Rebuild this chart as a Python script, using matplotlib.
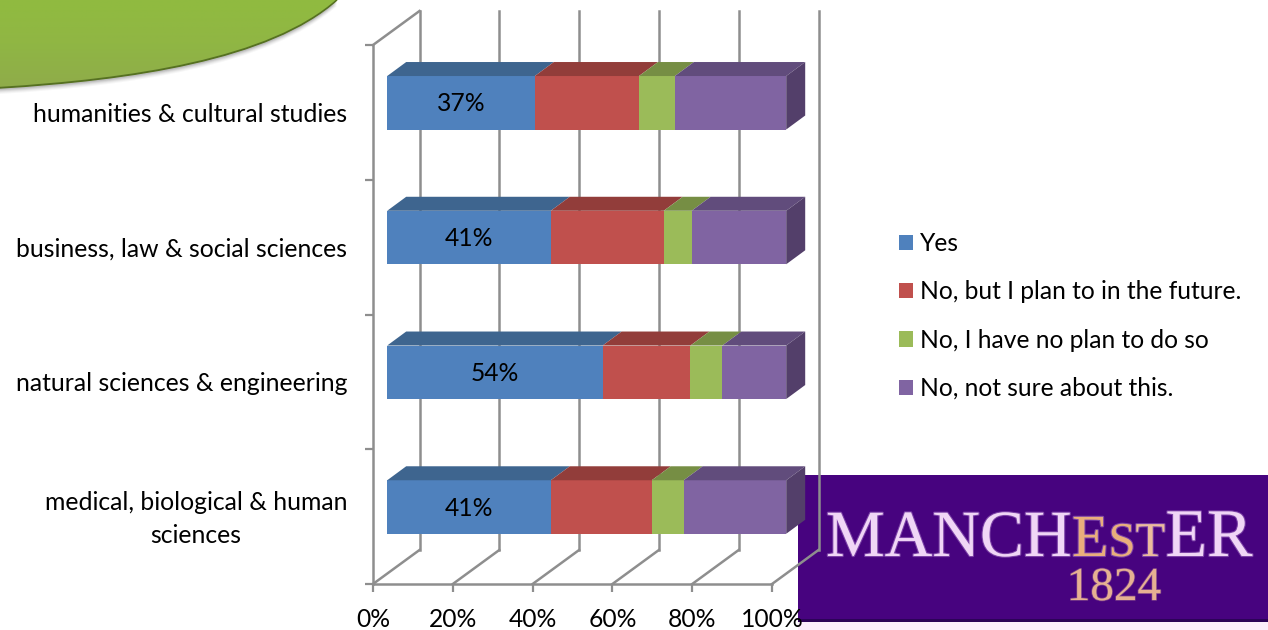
import matplotlib
matplotlib.use("Agg")
import numpy as np
import matplotlib.pyplot as plt
import matplotlib.patheffects as pe
from matplotlib.patches import PathPatch, Patch, Polygon, Rectangle
from matplotlib.path import Path
from matplotlib.colors import LinearSegmentedColormap
from matplotlib.transforms import Affine2D, ScaledTranslation

plt.rcParams['font.family'] = ['Lato', 'DejaVu Sans']

categories = ["medical, biological & human\nsciences", "natural sciences & engineering",
              "business, law & social sciences", "humanities & cultural studies"]
series_names = ["Yes", "No, but I plan to in the future.", "No, I have no plan to do so", "No, not sure about this."]
yes = [41, 54, 41, 37]
plan_future = [25.3, 22, 28.3, 26.1]
no_plan = [8, 8, 7, 9]
not_sure = [25.7, 16, 23.7, 27.9]
x_ticks = [0, 20, 40, 60, 80, 100]

front_colors = ["#4f81bd", "#c0504d", "#9bbb59", "#8064a2"]
top_colors = ["#3e658f", "#923d3a", "#768e44", "#614c7c"]
side_color = "#533f6a"
grid_color = "#8e8e8e"
label_size = 17.7

W, H = 1268, 630
fig = plt.figure(figsize=(W / 100, H / 100), dpi=100, facecolor="white")

# Backdrop layer in pixel coordinates: corner badge and crest
deco = fig.add_axes([0, 0, 1, 1], zorder=0)
deco.axis("off")

verts = [(0, 0), (0, 88), (130, 80), (270, 60), (337, 0), (0, 0)]
codes = [Path.MOVETO, Path.LINETO, Path.CURVE4, Path.CURVE4, Path.CURVE4, Path.CLOSEPOLY]
badge = Path(verts, codes)
for off, a in zip([6, 5, 4, 3, 2], [0.03, 0.04, 0.05, 0.07, 0.09]):
    deco.add_patch(PathPatch(badge.transformed(Affine2D().translate(0, off)), fc="black", ec="none", alpha=a))
deco.add_patch(PathPatch(badge, fc="#5a7527", ec="#55701f", lw=1.0))
green = LinearSegmentedColormap.from_list("g", ["#90bb40", "#90b644", "#8fac4a"])
gradient = deco.imshow(np.linspace(0, 1, 90).reshape(-1, 1), cmap=green, aspect="auto",
                       extent=(0, 340, 88, 0), zorder=2)
gradient.set_clip_path(PathPatch(badge.transformed(Affine2D().translate(0, -1.2)), transform=deco.transData))
deco.set_xlim(0, W)
deco.set_ylim(H, 0)

deco.add_patch(Rectangle((798, 475), 470, 145, fc="#47037f", ec="none", zorder=3))
deco.add_patch(Rectangle((798, 619), 470, 2.5, fc="#2c0358", ec="none", zorder=3))
deco.add_patch(Rectangle((798, 621.5), 470, 9, fc="#fbeefb", ec="none", zorder=3))
crest_pale, crest_gold = "#f0d6f6", "#e9ae7c"
serif = "Liberation Serif"
glow = [pe.withStroke(linewidth=1.6, foreground="#a878c8", alpha=0.55)]
for txt, x, size, col in [("MANCH", 826, 47.5, crest_pale), ("E", 1072, 43, crest_gold),
                          ("S", 1108.5, 35, crest_gold), ("T", 1135.5, 35, "#ecbc9c"),
                          ("ER", 1165.5, 49, crest_pale)]:
    deco.text(x, 556, txt, family=serif, fontsize=size, color=col, va="baseline", ha="left",
              zorder=4, path_effects=glow)
deco.text(1114, 600, "1824", family=serif, fontsize=34, color="#e6b092", va="baseline", ha="center",
          zorder=4, path_effects=[pe.withStroke(linewidth=1.2, foreground="#a06a90", alpha=0.55)])

# Chart axes: x runs along the front edge of the floor
left, right, top, bottom = 373, 772, 45, 584
ax = fig.add_axes([left / W, 1 - bottom / H, (right - left) / W, (bottom - top) / H], zorder=1)
ax.patch.set_alpha(0)
ax.set_xlim(0, 100)
ax.set_ylim(0, len(categories))

per_x = (right - left) / 100
per_y = (bottom - top) / len(categories)
wall_dx, wall_dy = 46.5 / per_x, 34 / per_y      # floor depth
bar_dx, bar_dy = 14.2 / per_x, 9.6 / per_y       # gap from front edge to bar face
depth_dx, depth_dy = 19 / per_x, 14 / per_y      # bar extrusion
bar_h = 53.5 / per_y

for s in ["top", "right", "bottom"]:
    ax.spines[s].set_visible(False)
ax.spines["left"].set_color(grid_color)
ax.spines["left"].set_linewidth(1.8)
ax.spines["left"].set_zorder(1)

# Back wall, floor and side wall lines
line = dict(color=grid_color, lw=1.8, clip_on=False, zorder=1, solid_capstyle="projecting")
n = len(categories)
for t in x_ticks:
    ax.plot([t + wall_dx, t + wall_dx], [wall_dy, n + wall_dy], **line)
    ax.plot([t, t + wall_dx], [0, wall_dy], **line)
ax.plot([0, 100], [0, 0], **line)
ax.plot([0, wall_dx], [n, n + wall_dy], **line)

ax.set_xticks(x_ticks)
ax.set_xticklabels([f"{t}%" for t in x_ticks])
ax.set_yticks(range(n + 1))
ax.set_yticklabels([])
ax.set_yticks(np.arange(n) + 0.5, minor=True)
ax.set_yticklabels(categories, minor=True, ha="right", va="center", multialignment="center", linespacing=1.52)
ax.tick_params(axis="y", which="minor", length=0, pad=18.5, labelsize=17.85)
ax.tick_params(axis="y", which="major", length=5.5, width=1.6, color=grid_color)
ax.tick_params(axis="x", length=5.5, width=1.6, color=grid_color, pad=12, labelsize=label_size)
for lab in ax.get_yticklabels(minor=True):
    lab.set_transform(lab.get_transform() + ScaledTranslation(0, -2 / 100, fig.dpi_scale_trans))

# Stacked bars with their top faces and end cap
series = [yes, plan_future, no_plan, not_sure]
ypos = np.arange(n) + 0.5 + bar_dy
lefts = np.zeros(n) + bar_dx
for vals, fc, tc, name in zip(series, front_colors, top_colors, series_names):
    vals = np.array(vals, dtype=float)
    ax.barh(ypos, vals, left=lefts, height=bar_h, color=fc, clip_on=False, zorder=3, label=name)
    for y, l, v in zip(ypos, lefts, vals):
        y1 = y + bar_h / 2
        ax.add_patch(Polygon([(l, y1), (l + v, y1), (l + v + depth_dx, y1 + depth_dy), (l + depth_dx, y1 + depth_dy)],
                             fc=tc, ec="none", clip_on=False, zorder=3))
    lefts = lefts + vals
for y, l in zip(ypos, lefts):
    y0, y1 = y - bar_h / 2, y + bar_h / 2
    ax.add_patch(Polygon([(l, y0), (l + depth_dx, y0 + depth_dy), (l + depth_dx, y1 + depth_dy), (l, y1)],
                         fc=side_color, ec="none", clip_on=False, zorder=3))

# Only the first series carries value labels
for y, v in zip(ypos, yes):
    ax.text(bar_dx + v / 2, y - 1 / per_y, f"{v}%", ha="center", va="center", fontsize=label_size,
            color="black", zorder=4)

handles = [Patch(fc=c, ec="none") for c in front_colors]
fig.legend(handles, series_names, loc="upper left", bbox_to_anchor=(899 / W, 1 - 232 / H), frameon=False,
           fontsize=label_size, handlelength=0.57, handleheight=0.57, handletextpad=0.28,
           labelspacing=1.03, borderpad=0, borderaxespad=0)

fig.savefig("out.png", dpi=100)
